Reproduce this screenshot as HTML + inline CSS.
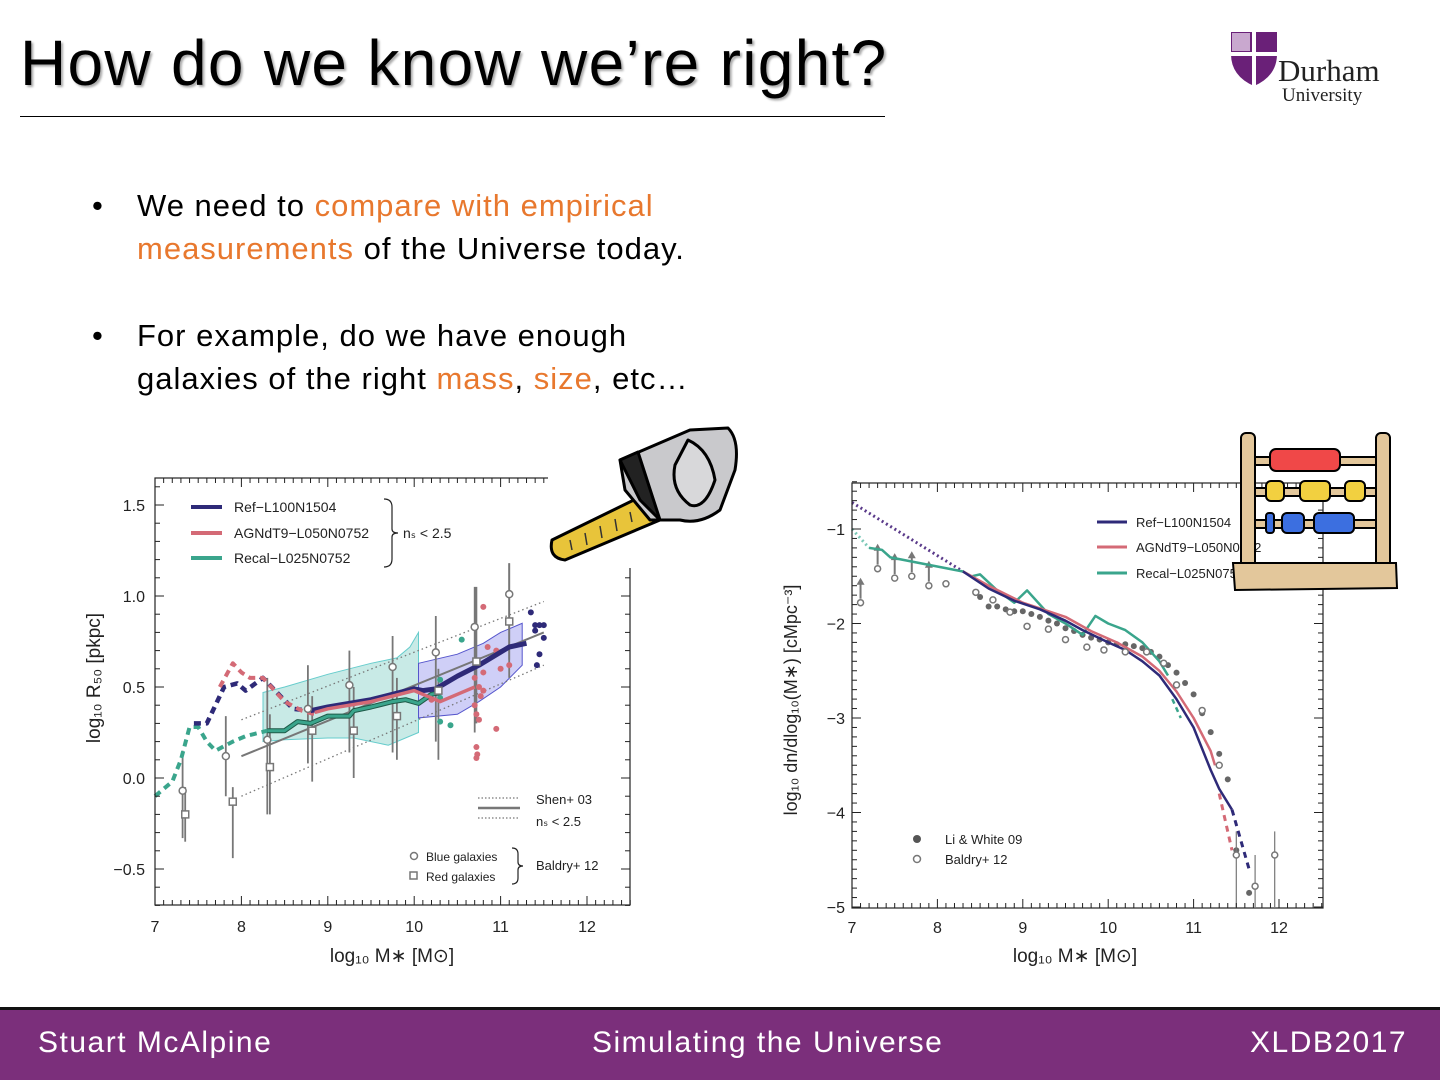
<!DOCTYPE html>
<html><head><meta charset="utf-8">
<style>
html,body{margin:0;padding:0;background:#fff;}
body{width:1440px;height:1080px;position:relative;overflow:hidden;font-family:"Liberation Sans",sans-serif;}
.title{position:absolute;left:20px;top:26px;font-size:64px;color:#000;text-shadow:2px 2px 2px #aaa;letter-spacing:1.3px;}
.rule{position:absolute;left:20px;top:116px;width:865px;height:1px;background:#000;}
.b{position:absolute;left:92px;font-size:31px;color:#000;line-height:43px;}
.b .t{position:absolute;left:45px;white-space:nowrap;letter-spacing:1px;}
.o{color:#e8782e;}
.foot{position:absolute;left:0;top:1007px;width:1440px;height:73px;background:#7b2f7b;border-top:3px solid #111;box-sizing:border-box;}
.foot span{position:absolute;top:16px;color:#fff;font-family:"Liberation Sans",sans-serif;font-size:30px;letter-spacing:1.5px;}
svg{position:absolute;left:0;top:0;}
</style></head><body>
<div class="title">How do we know we’re right?</div>
<div class="rule"></div>
<div class="b" style="top:184px;">•<span class="t">We need to <span class="o">compare with empirical</span><br><span class="o">measurements</span> of the Universe today.</span></div>
<div class="b" style="top:314px;">•<span class="t">For example, do we have enough<br>galaxies of the right <span class="o">mass</span>, <span class="o">size</span>, etc…</span></div>

<svg id="s" width="1440" height="1080" xmlns="http://www.w3.org/2000/svg" font-family="Liberation Sans, sans-serif">
<g>
<path d="M1231,32 h46 v22 q0,22 -23,32 q-23,-10 -23,-32z" fill="#6a2078"/>
<rect x="1252" y="32" width="4" height="54" fill="#fff"/>
<rect x="1231" y="52" width="46" height="4" fill="#fff"/>
<rect x="1232" y="33" width="18" height="18" fill="#c9a8cf"/>
<text x="1278" y="81" font-family="Liberation Serif, serif" font-size="31" fill="#222">Durham</text>
<text x="1282" y="101" font-family="Liberation Serif, serif" font-size="19" fill="#222">University</text>
</g>
<g id="L"></g>
<g id="R"></g>
<g stroke="#000" stroke-width="3" stroke-linejoin="round">
<rect x="548" y="412" width="195" height="156" fill="#fff" stroke="none"/>
<path d="M552,540 L640,497 L660,520 L565,560 Q548,558 552,540z" fill="#e8c43a"/>
<path d="M620,460 L690,430 L728,428 Q740,440 735,470 L720,510 Q700,525 680,520 L650,520 L625,490z" fill="#c9c9cc"/>
<path d="M688,440 Q710,450 715,480 Q705,510 690,505 Q670,490 675,465z" fill="#d8d8da"/>
<path d="M620,460 L638,452 L660,520 L640,500z" fill="#222"/>
</g>
<g stroke="#333" stroke-width="1.5"><line x1="570" y1="540" x2="572" y2="550"/><line x1="585" y1="533" x2="587" y2="545"/><line x1="600" y1="526" x2="602" y2="538"/><line x1="615" y1="519" x2="617" y2="531"/><line x1="630" y1="512" x2="632" y2="522"/></g>
<g stroke="#000" stroke-width="2">
<rect x="1241" y="433" width="14" height="140" rx="5" fill="#e3c79b"/>
<rect x="1376" y="433" width="14" height="140" rx="5" fill="#e3c79b"/>
<rect x="1255" y="457" width="121" height="8" fill="#e3c79b"/>
<rect x="1255" y="488" width="121" height="8" fill="#e3c79b"/>
<rect x="1255" y="520" width="121" height="8" fill="#e3c79b"/>
<rect x="1270" y="449" width="70" height="22" rx="6" fill="#f04848"/>
<rect x="1266" y="481" width="18" height="20" rx="5" fill="#f2d040"/><rect x="1300" y="481" width="30" height="20" rx="5" fill="#f2d040"/><rect x="1345" y="481" width="20" height="20" rx="5" fill="#f2d040"/>
<rect x="1266" y="513" width="8" height="20" rx="3" fill="#3c6fe0"/><rect x="1282" y="513" width="22" height="20" rx="5" fill="#3c6fe0"/><rect x="1314" y="513" width="40" height="20" rx="5" fill="#3c6fe0"/>
<path d="M1233,563 L1396,563 L1397,588 L1235,590z" fill="#e3c79b"/>
</g>
</svg>

<div class="foot"><span style="left:38px;">Stuart McAlpine</span><span style="left:592px;">Simulating the Universe</span><span style="left:1250px;">XLDB2017</span></div>

<script>
var NS="http://www.w3.org/2000/svg";
function el(p,t,a,txt){var e=document.createElementNS(NS,t);for(var k in a)e.setAttribute(k,a[k]);if(txt!==undefined)e.textContent=txt;p.appendChild(e);return e;}
function pl(g,f,pts,col,w,dash){var d=pts.map(function(p){var q=f(p[0],p[1]);return q[0].toFixed(1)+","+q[1].toFixed(1)}).join(" ");var a={points:d,fill:"none",stroke:col,"stroke-width":w,"stroke-linejoin":"round"};if(dash)a["stroke-dasharray"]=dash;return el(g,"polyline",a);}
function poly(g,f,pts,fill,st){var d=pts.map(function(p){var q=f(p[0],p[1]);return q[0].toFixed(1)+","+q[1].toFixed(1)}).join(" ");el(g,"polygon",{points:d,fill:fill,stroke:st||"none","stroke-width":1});}
var NAVY="#2e2a78",RED="#d46a76",GRN="#3aa58c",GR="#777";

var L=document.getElementById("L");
function fL(m,v){return [155+(m-7)*86.4,778-v*182];}
poly(L,fL,[[8.25,0.47],[8.5,0.5],[9.0,0.57],[9.5,0.63],[9.8,0.66],[9.95,0.72],[10.05,0.8],[10.05,0.25],[9.7,0.18],[9.3,0.22],[9.0,0.22],[8.5,0.21],[8.25,0.2]],"rgba(110,200,190,0.38)","#6cc");
poly(L,fL,[[10.05,0.63],[10.5,0.68],[10.8,0.74],[11.0,0.8],[11.25,0.85],[11.25,0.62],[11.0,0.5],[10.75,0.42],[10.5,0.35],[10.05,0.33]],"rgba(140,140,235,0.42)","#55c");
pl(L,fL,[[8,0.32],[11.5,0.97]],GR,1.3,"1.5 3");
pl(L,fL,[[8,-0.1],[11.5,0.62]],GR,1.3,"1.5 3");
pl(L,fL,[[8,0.12],[11.5,0.8]],GR,2);
var circ=[[7.32,-0.07,-0.33,0.15],[7.82,0.12,-0.1,0.34],[8.3,0.21,-0.2,0.55],[8.77,0.38,0.08,0.62],[9.25,0.51,0.14,0.7],[9.75,0.61,0.14,0.78],[10.25,0.69,0.2,0.89],[10.7,0.83,0.25,1.05],[11.1,1.01,0.65,1.18]];
var sq=[[7.35,-0.2,-0.35,-0.05],[7.9,-0.13,-0.44,-0.05],[8.33,0.06,-0.2,0.35],[8.82,0.26,-0.02,0.45],[9.3,0.26,0,0.5],[9.8,0.34,0.1,0.55],[10.28,0.48,0.1,0.6],[10.72,0.64,0.3,1.05],[11.1,0.86,0.55,1.18]];
circ.concat(sq).forEach(function(p){pl(L,fL,[[p[0],p[2]],[p[0],p[3]]],GR,1.8);});
function dots(g,f,arr,col,r){arr.forEach(function(p){var q=f(p[0],p[1]);el(g,"circle",{cx:q[0],cy:q[1],r:r,fill:col});});}
dots(L,fL,[[10.8,0.94],[10.7,0.4],[10.72,0.35],[10.75,0.32],[10.72,0.17],[10.73,0.13],[10.72,0.11],[10.95,0.27],[10.8,0.58],[10.85,0.72],[10.95,0.7],[11.0,0.6],[11.1,0.62],[10.75,0.5],[10.8,0.48],[10.7,0.55],[10.2,0.43],[10.77,0.45]],RED,3);
dots(L,fL,[[10.55,0.76],[10.3,0.54],[10.3,0.31],[10.42,0.29],[10.3,0.44]],GRN,3);
dots(L,fL,[[11.35,0.91],[11.4,0.84],[11.45,0.84],[11.5,0.84],[11.5,0.77],[11.4,0.81],[11.42,0.62],[11.45,0.68]],NAVY,3);
pl(L,fL,[[7.0,-0.1],[7.2,-0.02],[7.3,0.1],[7.4,0.28],[7.5,0.28],[7.6,0.2],[7.7,0.15],[7.9,0.2],[8.05,0.23],[8.3,0.26]],GRN,4,"7 5");
pl(L,fL,[[7.45,0.3],[7.6,0.3],[7.8,0.5],[7.95,0.52],[8.05,0.48],[8.25,0.55],[8.45,0.45],[8.6,0.38],[8.8,0.37]],NAVY,4.5,"7 5");
pl(L,fL,[[7.75,0.5],[7.9,0.63],[8.0,0.58],[8.1,0.55],[8.25,0.55],[8.5,0.42],[8.7,0.37],[8.85,0.35]],RED,4,"7 5");
var gpts=[[8.3,0.26],[8.5,0.26],[8.65,0.31],[8.8,0.3],[9.0,0.34],[9.25,0.34],[9.3,0.37],[9.5,0.39],[9.75,0.42],[9.9,0.43],[10.05,0.41],[10.2,0.46],[10.3,0.47]];
pl(L,fL,gpts,"#1e5a48",5);
pl(L,fL,gpts,GRN,3);
pl(L,fL,[[8.8,0.37],[9.0,0.39],[9.5,0.43],[10.0,0.49],[10.1,0.48],[10.25,0.49]],NAVY,5);
pl(L,fL,[[8.85,0.36],[9.0,0.38],[9.5,0.42],[10.0,0.48],[10.1,0.46],[10.2,0.44],[10.3,0.42],[10.5,0.46],[10.7,0.5]],RED,3.5);
pl(L,fL,[[10.25,0.49],[10.5,0.56],[10.75,0.62],[11.1,0.72],[11.3,0.74]],NAVY,5);
circ.forEach(function(p){var q=fL(p[0],p[1]);el(L,"circle",{cx:q[0],cy:q[1],r:3.5,fill:"#fff",stroke:GR,"stroke-width":1.5});});
sq.forEach(function(p){var q=fL(p[0],p[1]);el(L,"rect",{x:q[0]-3.5,y:q[1]-3.5,width:7,height:7,fill:"#fff",stroke:GR,"stroke-width":1.5});});
function axes(g,x0,y0,x1,y1,xt,yt){
 el(g,"rect",{x:x0,y:y0,width:x1-x0,height:y1-y0,fill:"none",stroke:"#222","stroke-width":1.2});
 xt.forEach(function(t){var big=t[1];el(g,"line",{x1:t[0],y1:y1,x2:t[0],y2:y1-(big?9:5),stroke:"#222","stroke-width":1});el(g,"line",{x1:t[0],y1:y0,x2:t[0],y2:y0+(big?9:5),stroke:"#222","stroke-width":1});});
 yt.forEach(function(t){var big=t[1];el(g,"line",{x1:x0,y1:t[0],x2:x0+(big?9:5),y2:t[0],stroke:"#222","stroke-width":1});el(g,"line",{x1:x1,y1:t[0],x2:x1-(big?9:5),y2:t[0],stroke:"#222","stroke-width":1});});
}
var xt=[],yt=[];for(var i=0;i<=55;i++){xt.push([155+i*8.64,i%10==0]);}
for(var k=-7;k<=16;k++){yt.push([778-k/10*182,k%5==0]);}
axes(L,155,478,630,905,xt,yt);
[7,8,9,10,11,12].forEach(function(m){el(L,"text",{x:155+(m-7)*86.4,y:932,"font-size":16,"text-anchor":"middle",fill:"#222"},m);});
[["1.5",1.5],["1.0",1],["0.5",0.5],["0.0",0],["\u22120.5",-0.5]].forEach(function(p){el(L,"text",{x:145,y:778-p[1]*182+6,"font-size":16,"text-anchor":"end",fill:"#222"},p[0]);});
el(L,"text",{x:392,y:962,"font-size":19,"text-anchor":"middle",fill:"#222"},"log\u2081\u2080 M\u2217 [M\u2299]");
el(L,"text",{x:0,y:0,"font-size":19,"text-anchor":"middle",fill:"#222",transform:"translate(100,678) rotate(-90)"},"log\u2081\u2080 R\u2085\u2080 [pkpc]");
[[NAVY,507,"Ref\u2212L100N1504"],[RED,533,"AGNdT9\u2212L050N0752"],[GRN,558,"Recal\u2212L025N0752"]].forEach(function(p){el(L,"line",{x1:191,y1:p[1],x2:222,y2:p[1],stroke:p[0],"stroke-width":4});el(L,"text",{x:234,y:p[1]+5,"font-size":14,fill:"#222"},p[2]);});
el(L,"path",{d:"M384,499 q8,0 8,8 v22 q0,4 6,4 q-6,0 -6,4 v22 q0,8 -8,8",fill:"none",stroke:"#222","stroke-width":1.2});
el(L,"text",{x:403,y:538,"font-size":14,fill:"#222"},"n\u209b < 2.5");
pl(L,function(a,b){return[a,b]},[[478,798],[520,798]],GR,1.2,"1.5 2");
pl(L,function(a,b){return[a,b]},[[478,808],[520,808]],GR,2.5);
pl(L,function(a,b){return[a,b]},[[478,818],[520,818]],GR,1.2,"1.5 2");
el(L,"text",{x:536,y:804,"font-size":13,fill:"#222"},"Shen+ 03");
el(L,"text",{x:536,y:826,"font-size":13,fill:"#222"},"n\u209b < 2.5");
el(L,"circle",{cx:414,cy:856,r:3.5,fill:"none",stroke:GR,"stroke-width":1.5});
el(L,"rect",{x:410,y:872,width:7,height:7,fill:"none",stroke:GR,"stroke-width":1.5});
el(L,"text",{x:426,y:861,"font-size":12,fill:"#222"},"Blue galaxies");
el(L,"text",{x:426,y:881,"font-size":12,fill:"#222"},"Red galaxies");
el(L,"path",{d:"M512,848 q6,0 6,6 v8 q0,4 5,4 q-5,0 -5,4 v8 q0,6 -6,6",fill:"none",stroke:"#222","stroke-width":1.2});
el(L,"text",{x:536,y:870,"font-size":13,fill:"#222"},"Baldry+ 12");

var R=document.getElementById("R");
function fR(m,v){return [852+(m-7)*85.4,434.5-v*94.5];}
pl(R,fR,[[7.0,-0.72],[8.3,-1.45]],"#5a3a8a",3,"2 3");
pl(R,fR,[[7.0,-1.0],[7.2,-1.2]],"#7cc9b8",3,"2 3");
var filled=[[8.5,-1.72],[8.6,-1.82],[8.7,-1.82],[8.8,-1.85],[8.9,-1.87],[9.0,-1.87],[9.1,-1.9],[9.2,-1.93],[9.3,-1.97],[9.4,-2.0],[9.5,-2.05],[9.6,-2.08],[9.7,-2.12],[9.8,-2.15],[9.9,-2.17],[10.0,-2.2],[10.1,-2.22],[10.2,-2.22],[10.3,-2.24],[10.4,-2.26],[10.5,-2.3],[10.6,-2.35],[10.7,-2.44],[10.8,-2.52],[10.9,-2.63],[11.0,-2.75],[11.1,-2.95],[11.2,-3.15],[11.3,-3.38],[11.4,-3.65],[11.5,-4.4],[11.65,-4.85]];
dots(R,fR,filled,"#666",3);
var open=[[8.1,-1.58],[8.45,-1.67],[8.65,-1.75],[8.85,-1.88],[9.05,-2.03],[9.3,-2.06],[9.5,-2.17],[9.75,-2.25],[9.95,-2.28],[10.2,-2.3],[10.45,-2.3],[10.65,-2.42],[10.8,-2.65],[11.1,-2.92],[11.3,-3.5],[11.5,-4.45],[11.72,-4.78],[11.95,-4.45]];
[[11.5,-4.2,-5],[11.72,-4.45,-5],[11.95,-4.2,-5]].forEach(function(p){pl(R,fR,[[p[0],p[1]],[p[0],p[2]]],GR,1.2);});
[[7.1,-1.78],[7.3,-1.42],[7.5,-1.52],[7.7,-1.5],[7.9,-1.6]].forEach(function(p){var q=fR(p[0],p[1]);el(R,"line",{x1:q[0],y1:q[1]-4,x2:q[0],y2:q[1]-22,stroke:GR,"stroke-width":2});el(R,"path",{d:"M"+(q[0]-4)+","+(q[1]-18)+" l4,-7 l4,7z",fill:GR});el(R,"circle",{cx:q[0],cy:q[1],r:3,fill:"#fff",stroke:GR,"stroke-width":1.5});});
pl(R,fR,[[7.2,-1.2],[7.35,-1.22],[7.45,-1.3],[7.9,-1.38],[8.3,-1.45],[8.4,-1.5],[8.5,-1.48],[8.7,-1.65],[8.9,-1.78],[9.05,-1.65],[9.3,-1.9],[9.5,-2.0],[9.7,-2.12],[9.85,-1.92],[10.0,-2.0],[10.2,-2.07],[10.4,-2.2],[10.6,-2.4],[10.7,-2.55]],GRN,2.5);
pl(R,fR,[[10.75,-2.8],[10.85,-3.0]],GRN,2.5,"5 4");
pl(R,fR,[[8.3,-1.45],[8.6,-1.6],[9.0,-1.78],[9.5,-1.93],[9.8,-2.08],[10.1,-2.2],[10.4,-2.35],[10.6,-2.5],[10.8,-2.72],[11.0,-3.0],[11.2,-3.35],[11.25,-3.5]],RED,2.5);
pl(R,fR,[[11.3,-3.8],[11.45,-4.4]],RED,3,"6 5");
pl(R,fR,[[8.3,-1.45],[8.6,-1.63],[8.9,-1.76],[9.2,-1.85],[9.5,-1.97],[9.7,-2.07],[10.0,-2.2],[10.2,-2.28],[10.4,-2.4],[10.6,-2.55],[10.8,-2.8],[11.0,-3.1],[11.2,-3.55],[11.3,-3.75],[11.45,-3.97]],NAVY,2.5);
pl(R,fR,[[11.45,-3.97],[11.65,-4.6]],NAVY,3,"6 5");
open.forEach(function(p){var q=fR(p[0],p[1]);el(R,"circle",{cx:q[0],cy:q[1],r:3,fill:"#fff",stroke:GR,"stroke-width":1.5});});
var xt2=[],yt2=[];for(var i=0;i<=55;i++){xt2.push([852+i*8.54,i%10==0]);}
for(var k=-50;k<=-5;k++){yt2.push([434.5-k/10*94.5,k%10==0]);}
axes(R,852,483,1323,908,xt2,yt2);
[7,8,9,10,11,12].forEach(function(m){el(R,"text",{x:852+(m-7)*85.4,y:933,"font-size":16,"text-anchor":"middle",fill:"#222"},m);});
[-1,-2,-3,-4,-5].forEach(function(v){el(R,"text",{x:845,y:434.5-v*94.5+6,"font-size":16,"text-anchor":"end",fill:"#222"},"\u2212"+(-v));});
el(R,"text",{x:1075,y:962,"font-size":19,"text-anchor":"middle",fill:"#222"},"log\u2081\u2080 M\u2217 [M\u2299]");
el(R,"text",{x:0,y:0,"font-size":18,"text-anchor":"middle",fill:"#222",transform:"translate(797,700) rotate(-90)"},"log\u2081\u2080 dn/dlog\u2081\u2080(M\u2217) [cMpc\u207b\u00b3]");
[[NAVY,522,"Ref\u2212L100N1504"],[RED,547,"AGNdT9\u2212L050N0752"],[GRN,573,"Recal\u2212L025N0752"]].forEach(function(p){el(R,"line",{x1:1097,y1:p[1],x2:1127,y2:p[1],stroke:p[0],"stroke-width":3});el(R,"text",{x:1136,y:p[1]+5,"font-size":13,fill:"#222"},p[2]);});
el(R,"circle",{cx:917,cy:839,r:4,fill:"#555"});
el(R,"circle",{cx:917,cy:859,r:3.5,fill:"#fff",stroke:GR,"stroke-width":1.5});
el(R,"text",{x:945,y:844,"font-size":13,fill:"#222"},"Li & White 09");
el(R,"text",{x:945,y:864,"font-size":13,fill:"#222"},"Baldry+ 12");
// redraw abacus on top of right legend
var s=document.getElementById("s");s.appendChild(s.children[4]);s.appendChild(s.children[4]);s.appendChild(s.children[4]);
</script>
</body></html>
